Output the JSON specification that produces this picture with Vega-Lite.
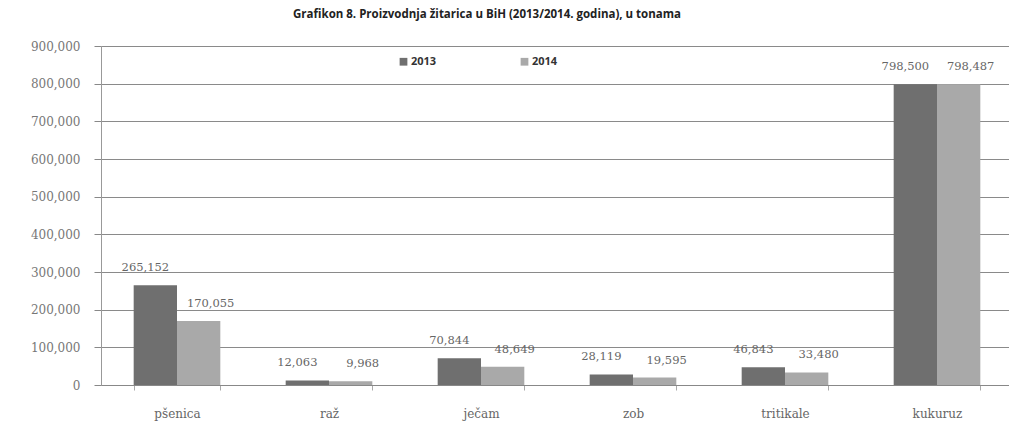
{
  "$schema": "https://vega.github.io/schema/vega-lite/v6.json",
  "autosize": {"type": "none"},
  "padding": {"left": 101, "top": 46, "right": 0, "bottom": 42},
  "width": 912,
  "height": 339,
  "background": "white",
  "title": {
    "text": "Grafikon 8. Proizvodnja žitarica u BiH (2013/2014. godina), u tonama",
    "anchor": "middle",
    "dx": -70,
    "offset": 20,
    "font": "Open Sans",
    "fontSize": 11.5,
    "fontWeight": "bold",
    "color": "#222222"
  },
  "data": {
    "values": [
      {"kultura": "pšenica", "godina": "2013", "tona": 265152},
      {"kultura": "pšenica", "godina": "2014", "tona": 170055},
      {"kultura": "raž", "godina": "2013", "tona": 12063},
      {"kultura": "raž", "godina": "2014", "tona": 9968},
      {"kultura": "ječam", "godina": "2013", "tona": 70844},
      {"kultura": "ječam", "godina": "2014", "tona": 48649},
      {"kultura": "zob", "godina": "2013", "tona": 28119},
      {"kultura": "zob", "godina": "2014", "tona": 19595},
      {"kultura": "tritikale", "godina": "2013", "tona": 46843},
      {"kultura": "tritikale", "godina": "2014", "tona": 33480},
      {"kultura": "kukuruz", "godina": "2013", "tona": 798500},
      {"kultura": "kukuruz", "godina": "2014", "tona": 798487}
    ]
  },
  "encoding": {
    "x": {
      "field": "kultura",
      "type": "nominal",
      "sort": ["pšenica", "raž", "ječam", "zob", "tritikale", "kukuruz"],
      "scale": {"paddingInner": 0.43, "paddingOuter": 0.215},
      "axis": {
        "title": null,
        "labelAngle": 0,
        "labelFont": "DejaVu Serif",
        "labelFontSize": 12,
        "labelColor": "#666666",
        "labelPadding": 18,
        "tickBand": "extent",
        "tickSize": 5,
        "tickColor": "#aaaaaa",
        "domainColor": "#888888",
        "grid": false
      }
    },
    "xOffset": {"field": "godina", "type": "nominal"},
    "y": {
      "field": "tona",
      "type": "quantitative",
      "scale": {"domain": [0, 900000], "nice": false},
      "axis": {
        "title": null,
        "values": [0, 100000, 200000, 300000, 400000, 500000, 600000, 700000, 800000, 900000],
        "format": ",.0f",
        "labelFont": "DejaVu Serif",
        "labelFontSize": 12,
        "labelColor": "#777777",
        "labelPadding": 14,
        "tickSize": 7,
        "tickColor": "#888888",
        "domainColor": "#999999",
        "gridColor": "#8a8a8a",
        "gridWidth": 1
      }
    }
  },
  "layer": [
    {
      "mark": {"type": "bar"},
      "encoding": {
        "color": {
          "field": "godina",
          "type": "nominal",
          "scale": {"domain": ["2013", "2014"], "range": ["#6f6f6f", "#a9a9a9"]},
          "legend": {
            "title": null,
            "orient": "none",
            "legendX": 297,
            "legendY": 10,
            "direction": "horizontal",
            "symbolType": "square",
            "symbolSize": 60,
            "symbolStrokeWidth": 0,
            "labelFont": "Open Sans",
            "labelFontSize": 11,
            "labelFontWeight": "bold",
            "labelColor": "#333333",
            "labelOffset": 2,
            "columnPadding": 82
          }
        }
      }
    },
    {
      "transform": [{"filter": "datum.godina == '2013'"}],
      "mark": {
        "type": "text",
        "baseline": "bottom",
        "dy": -12,
        "dx": -10,
        "font": "DejaVu Serif",
        "fontSize": 11.5,
        "color": "#666666"
      },
      "encoding": {
        "text": {"field": "tona", "type": "quantitative", "format": ",.0f"}
      }
    },
    {
      "transform": [{"filter": "datum.godina == '2014'"}],
      "mark": {
        "type": "text",
        "baseline": "bottom",
        "dy": -12,
        "dx": 12,
        "font": "DejaVu Serif",
        "fontSize": 11.5,
        "color": "#666666"
      },
      "encoding": {
        "text": {"field": "tona", "type": "quantitative", "format": ",.0f"}
      }
    }
  ]
}
